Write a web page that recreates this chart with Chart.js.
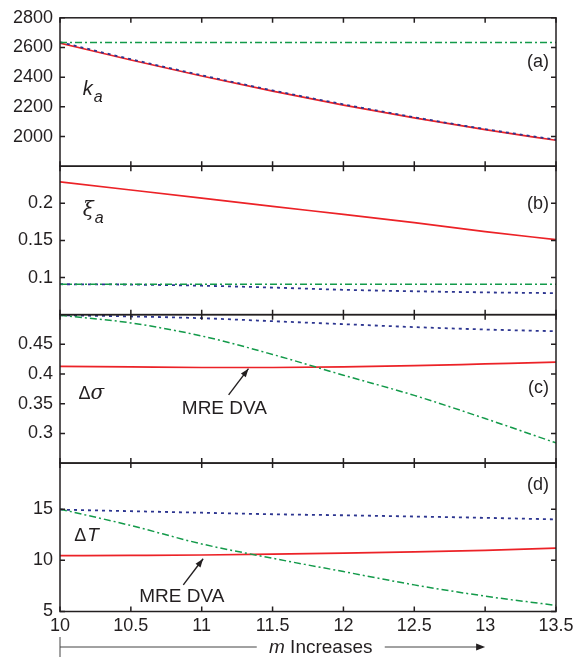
<!DOCTYPE html>
<html>
<head>
<meta charset="utf-8">
<script src="https://cdn.jsdelivr.net/npm/chart.js@4/dist/chart.umd.min.js"></script>
<style>
  html, body { margin: 0; padding: 0; background: #fff; }
  #wrap { width: 578px; height: 657px; position: relative; }
</style>
</head>
<body>
<div id="wrap"><canvas id="chart" width="578" height="657"></canvas></div>
<script>
// x values (m)
const mValues = [10, 10.5, 11, 11.5, 12, 12.5, 13, 13.5];
const xTicks = [10, 10.5, 11, 11.5, 12, 12.5, 13, 13.5];

// (a) k_a
const kaRed = [2630, 2516, 2408, 2306, 2212, 2126, 2046, 1975];
const kaBlue = [2636, 2521, 2413, 2311, 2217, 2130, 2050, 1979];
const kaGreen = [2633, 2633, 2633, 2633, 2633, 2633, 2633, 2633];
const kaTicks = [2000, 2200, 2400, 2600, 2800];

// (b) xi_a
const xiRed = [0.229, 0.218, 0.207, 0.196, 0.185, 0.174, 0.162, 0.151];
const xiBlue = [0.091, 0.0905, 0.089, 0.0865, 0.0835, 0.0815, 0.08, 0.079];
const xiGreen = [0.091, 0.091, 0.091, 0.091, 0.091, 0.091, 0.091, 0.091];
const xiTicks = [0.1, 0.15, 0.2];

// (c) delta sigma
const dsRed = [0.413, 0.412, 0.411, 0.411, 0.412, 0.414, 0.417, 0.42];
const dsBlue = [0.499, 0.497, 0.494, 0.489, 0.484, 0.479, 0.475, 0.472];
const dsGreen = [0.499, 0.486, 0.464, 0.433, 0.398, 0.364, 0.325, 0.284];
const dsTicks = [0.3, 0.35, 0.4, 0.45];

// (d) delta T
const dtRed = [10.45, 10.48, 10.52, 10.6, 10.7, 10.82, 10.98, 11.2];
const dtBlue = [14.95, 14.8, 14.65, 14.5, 14.4, 14.28, 14.15, 14.0];
const dtGreen = [15.0, 13.4, 11.6, 10.2, 8.9, 7.6, 6.5, 5.6];
const dtTicks = [5, 10, 15];

const RED = "#ec2227";
const BLUE = "#2c3590";
const GREEN = "#139a4a";
const INK = "#231f20";
const FONT = "'Liberation Sans', Arial, sans-serif";

const panelIds = ["ya", "yb", "yc", "yd"];

function pts(ys) {
  return mValues.map((x, i) => ({ x: x, y: ys[i] }));
}

function series(ys, axis, kind) {
  const base = {
    data: pts(ys),
    yAxisID: axis,
    pointRadius: 0,
    fill: false,
    tension: 0.3,
    cubicInterpolationMode: "monotone",
  };
  if (kind === "red") return { ...base, borderColor: RED, borderWidth: 1.7 };
  if (kind === "blue") return { ...base, borderColor: BLUE, borderWidth: 1.8, borderDash: [3, 4] };
  return { ...base, borderColor: GREEN, borderWidth: 1.5, borderDash: [7, 3, 2, 3] };
}

function yScale(min, max, ticks, weight) {
  return {
    type: "linear",
    position: "left",
    stack: "panels",
    stackWeight: 1,
    weight: weight,
    min: min,
    max: max,
    grid: { display: false, drawTicks: false },
    border: { display: false },
    afterBuildTicks: (scale) => {
      scale.ticks = ticks.map((v) => ({ value: v }));
    },
    afterFit: (scale) => {
      scale.width = 60;
    },
    ticks: {
      autoSkip: false,
      padding: 7,
      color: INK,
      font: { family: FONT, size: 18 },
      callback: (v) => String(v),
    },
  };
}

// frames and inward ticks for every panel
const panelFrames = {
  id: "panelFrames",
  afterDatasetsDraw(chart) {
    const ctx = chart.ctx;
    const x = chart.scales.x;
    ctx.save();
    ctx.strokeStyle = INK;
    ctx.lineWidth = 1.5;
    panelIds.forEach((id) => {
      const y = chart.scales[id];
      ctx.strokeRect(x.left, y.top, x.right - x.left, y.bottom - y.top);
      ctx.beginPath();
      y.ticks.forEach((t) => {
        const py = y.getPixelForValue(t.value);
        ctx.moveTo(x.left, py);
        ctx.lineTo(x.left + 5, py);
        ctx.moveTo(x.right, py);
        ctx.lineTo(x.right - 5, py);
      });
      x.ticks.forEach((t) => {
        const px = x.getPixelForValue(t.value);
        ctx.moveTo(px, y.top);
        ctx.lineTo(px, y.top + 5);
        ctx.moveTo(px, y.bottom);
        ctx.lineTo(px, y.bottom - 5);
      });
      ctx.stroke();
    });
    ctx.restore();
  },
};

function arrow(ctx, x1, y1, x2, y2) {
  const ang = Math.atan2(y2 - y1, x2 - x1);
  ctx.beginPath();
  ctx.moveTo(x1, y1);
  ctx.lineTo(x2, y2);
  ctx.stroke();
  ctx.beginPath();
  ctx.moveTo(x2, y2);
  ctx.lineTo(x2 - 9 * Math.cos(ang - 0.35), y2 - 9 * Math.sin(ang - 0.35));
  ctx.lineTo(x2 - 9 * Math.cos(ang + 0.35), y2 - 9 * Math.sin(ang + 0.35));
  ctx.closePath();
  ctx.fill();
}

// symbols, panel letters, MRE DVA arrows and the bottom "m Increases" arrow
const panelText = {
  id: "panelText",
  afterDraw(chart) {
    const ctx = chart.ctx;
    const x = chart.scales.x;
    const s = chart.scales;
    ctx.save();
    ctx.fillStyle = INK;
    ctx.strokeStyle = INK;
    ctx.lineWidth = 1.4;
    ctx.textBaseline = "middle";

    // panel letters
    ctx.textAlign = "right";
    ctx.font = "18px " + FONT;
    [["ya", 2500, "(a)"], ["yb", 0.199, "(b)"], ["yc", 0.377, "(c)"], ["yd", 17.4, "(d)"]].forEach((p) => {
      ctx.fillText(p[2], x.right - 7, s[p[0]].getPixelForValue(p[1]));
    });

    // symbols
    ctx.textAlign = "left";
    let px = x.getPixelForValue(10.16);
    let py = s.ya.getPixelForValue(2315);
    ctx.font = "italic 20px " + FONT;
    ctx.fillText("k", px, py);
    const kw = ctx.measureText("k").width;
    ctx.font = "italic 16px " + FONT;
    ctx.fillText("a", px + kw + 1, py + 8);

    px = x.getPixelForValue(10.16);
    py = s.yb.getPixelForValue(0.19);
    ctx.font = "italic 20px 'DejaVu Serif', serif";
    ctx.fillText("ξ", px, py);
    const xw = ctx.measureText("ξ").width;
    ctx.font = "italic 16px " + FONT;
    ctx.fillText("a", px + xw + 1, py + 8);

    px = x.getPixelForValue(10.13);
    py = s.yc.getPixelForValue(0.367);
    ctx.font = "18px " + FONT;
    ctx.fillText("Δ", px, py);
    let dw = ctx.measureText("Δ").width;
    ctx.font = "italic 20px 'DejaVu Serif', serif";
    ctx.fillText("σ", px + dw, py);

    px = x.getPixelForValue(10.1);
    py = s.yd.getPixelForValue(12.4);
    ctx.font = "18px " + FONT;
    ctx.fillText("Δ", px, py);
    dw = ctx.measureText("Δ").width;
    ctx.font = "italic 19px " + FONT;
    ctx.fillText("T", px + dw + 1, py);

    // MRE DVA labels with arrows
    ctx.textAlign = "center";
    ctx.font = "19px " + FONT;
    ctx.fillText("MRE DVA", x.getPixelForValue(11.16), s.yc.getPixelForValue(0.342));
    arrow(ctx, x.getPixelForValue(11.19), s.yc.getPixelForValue(0.365),
      x.getPixelForValue(11.33), s.yc.getPixelForValue(0.409));
    ctx.fillText("MRE DVA", x.getPixelForValue(10.86), s.yd.getPixelForValue(6.4));
    arrow(ctx, x.getPixelForValue(10.87), s.yd.getPixelForValue(7.6),
      x.getPixelForValue(11.01), s.yd.getPixelForValue(10.15));

    // bottom arrow
    const ay = 647;
    const cx = x.getPixelForValue(11.84);
    ctx.lineWidth = 1;
    ctx.strokeStyle = "#444";
    ctx.beginPath();
    ctx.moveTo(x.left, 637);
    ctx.lineTo(x.left, 657);
    ctx.moveTo(x.left, ay);
    ctx.lineTo(cx - 64, ay);
    ctx.moveTo(cx + 64, ay);
    ctx.lineTo(x.getPixelForValue(13.0) - 6, ay);
    ctx.stroke();
    ctx.fillStyle = INK;
    ctx.beginPath();
    const tip = x.getPixelForValue(13.0);
    ctx.moveTo(tip, ay);
    ctx.lineTo(tip - 9, ay - 3.5);
    ctx.lineTo(tip - 9, ay + 3.5);
    ctx.closePath();
    ctx.fill();
    ctx.font = "italic 19px " + FONT;
    const mw = ctx.measureText("m ").width;
    ctx.font = "19px " + FONT;
    const iw = ctx.measureText("Increases").width;
    const start = cx - (mw + iw) / 2;
    ctx.textAlign = "left";
    ctx.font = "italic 19px " + FONT;
    ctx.fillText("m", start, ay + 1);
    ctx.font = "19px " + FONT;
    ctx.fillText("Increases", start + mw, ay + 1);
    ctx.restore();
  },
};

const ctx = document.getElementById("chart").getContext("2d");
new Chart(ctx, {
  type: "line",
  data: {
    datasets: [
      series(kaGreen, "ya", "green"),
      series(kaBlue, "ya", "blue"),
      series(kaRed, "ya", "red"),
      series(xiGreen, "yb", "green"),
      series(xiBlue, "yb", "blue"),
      series(xiRed, "yb", "red"),
      series(dsGreen, "yc", "green"),
      series(dsBlue, "yc", "blue"),
      series(dsRed, "yc", "red"),
      series(dtGreen, "yd", "green"),
      series(dtBlue, "yd", "blue"),
      series(dtRed, "yd", "red"),
    ],
  },
  options: {
    responsive: false,
    animation: false,
    layout: { padding: { top: 15, right: 22, left: 0, bottom: 0 } },
    plugins: { legend: { display: false }, tooltip: { enabled: false } },
    scales: {
      x: {
        type: "linear",
        min: 10,
        max: 13.5,
        grid: { display: false, drawTicks: false },
        border: { display: false },
        afterBuildTicks: (scale) => {
          scale.ticks = xTicks.map((v) => ({ value: v }));
        },
        afterFit: (scale) => {
          scale.height = 45.5;
        },
        ticks: {
          autoSkip: false,
          padding: 4,
          maxRotation: 0,
          color: INK,
          font: { family: FONT, size: 18 },
          callback: (v) => String(v),
        },
      },
      ya: yScale(1800, 2800, kaTicks, 4),
      yb: yScale(0.05, 0.25, xiTicks, 3),
      yc: yScale(0.25, 0.5, dsTicks, 2),
      yd: yScale(5, 19.5, dtTicks, 1),
    },
  },
  plugins: [panelFrames, panelText],
});
</script>
</body>
</html>
